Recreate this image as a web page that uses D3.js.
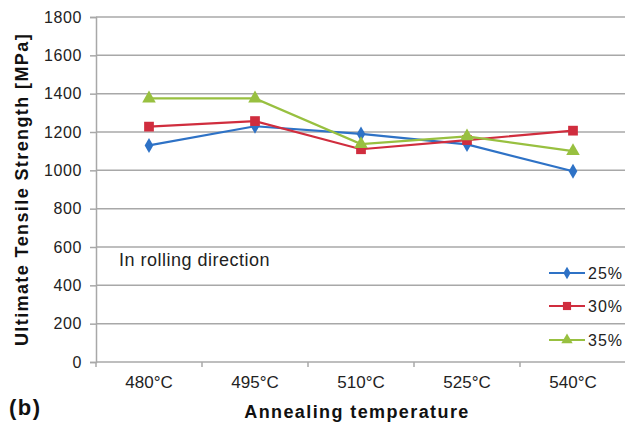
<!DOCTYPE html>
<html>
<head>
<meta charset="utf-8">
<script src="https://cdn.jsdelivr.net/npm/d3@7"></script>
<style>
body { margin: 0; background: #fff; }
svg { font-family: Arial, "Liberation Sans", sans-serif; }
</style>
</head>
<body>
<script>
// values
var temps = ["480°C", "495°C", "510°C", "525°C", "540°C"]
var s25 = [1130, 1230, 1190, 1135, 995]
var s30 = [1228, 1257, 1110, 1158, 1207]
var s35 = [1375, 1375, 1137, 1177, 1100]
var seriesNames = ["25%", "30%", "35%"]
var yTicks = [0, 200, 400, 600, 800, 1000, 1200, 1400, 1600, 1800]

var colors = ["#2e72c6", "#d02d3e", "#98c040"]
var shapes = [d3.symbolDiamond, d3.symbolSquare, d3.symbolTriangle]
var sizes = [65, 95, 80]

var W = 625, H = 424
var m = {left: 96, top: 17, right: -1, bottom: 62}

var svg = d3.select("body").append("svg")
    .attr("width", W).attr("height", H)

var x = d3.scaleBand().domain(temps).range([m.left, W - m.right])
var y = d3.scaleLinear().domain([0, 1800]).range([H - m.bottom, m.top])

// grid
svg.append("g").selectAll("line")
    .data(yTicks)
    .enter().append("line")
    .attr("x1", m.left).attr("x2", W - m.right)
    .attr("y1", function (d) { return y(d) })
    .attr("y2", function (d) { return y(d) })
    .attr("stroke", "#a8a8a8").attr("stroke-width", 1.5)

// y axis
var yAxis = svg.append("g")
    .attr("transform", "translate(" + m.left + ",0)")
    .call(d3.axisLeft(y).tickValues(yTicks).tickFormat(d3.format("d")).tickSize(6).tickPadding(8))
yAxis.select(".domain").attr("stroke", "#a8a8a8").attr("stroke-width", 1.5)
yAxis.selectAll(".tick line").attr("stroke", "#a8a8a8").attr("stroke-width", 1.5)
yAxis.selectAll("text").attr("font-size", 16).attr("letter-spacing", 0.6).attr("fill", "#222")

// x axis
var xAxis = svg.append("g")
    .attr("transform", "translate(0," + y(0) + ")")
    .call(d3.axisBottom(x).tickSize(0).tickPadding(14))
xAxis.select(".domain").remove()
xAxis.selectAll("text").attr("font-size", 17).attr("fill", "#222")
svg.append("g").selectAll("line")
    .data(temps.concat(["end"]))
    .enter().append("line")
    .attr("x1", function (d, i) { return m.left + i * x.step() })
    .attr("x2", function (d, i) { return m.left + i * x.step() })
    .attr("y1", y(0)).attr("y2", y(0) + 5)
    .attr("stroke", "#a8a8a8").attr("stroke-width", 1.5)

// series
var allSeries = [s25, s30, s35]
var line = d3.line()
    .x(function (d, i) { return x(temps[i]) + x.bandwidth() / 2 })
    .y(function (d) { return y(d) })

allSeries.forEach(function (vals, k) {
    svg.append("path")
        .datum(vals)
        .attr("d", line)
        .attr("fill", "none")
        .attr("stroke", colors[k])
        .attr("stroke-width", 2.2)
    svg.append("g").selectAll("path")
        .data(vals)
        .enter().append("path")
        .attr("d", d3.symbol().type(shapes[k]).size(sizes[k]))
        .attr("transform", function (d, i) {
            return "translate(" + (x(temps[i]) + x.bandwidth() / 2) + "," + y(d) + ")"
        })
        .attr("fill", colors[k])
})

// legend
var legY = [273, 306, 340]
seriesNames.forEach(function (name, k) {
    var g = svg.append("g").attr("transform", "translate(549," + legY[k] + ")")
    g.append("line").attr("x1", 0).attr("x2", 36).attr("y1", 0).attr("y2", 0)
        .attr("stroke", colors[k]).attr("stroke-width", 2)
    g.append("path").attr("d", d3.symbol().type(shapes[k]).size(sizes[k] * 0.7))
        .attr("transform", "translate(18,0)").attr("fill", colors[k])
    g.append("text").attr("x", 39).attr("y", 6).attr("font-size", 16)
        .attr("letter-spacing", 1).attr("fill", "#222").text(name)
})

// annotation
svg.append("text").attr("x", 119).attr("y", 266)
    .attr("font-size", 18).attr("letter-spacing", 0.5).attr("fill", "#222").text("In rolling direction")

// axis titles
svg.append("text")
    .attr("transform", "translate(28," + (y(900)) + ") rotate(-90)")
    .attr("text-anchor", "middle").attr("font-size", 18).attr("font-weight", "bold")
    .attr("letter-spacing", 1.4).attr("fill", "#111").text("Ultimate Tensile Strength [MPa]")
svg.append("text").attr("x", 357).attr("y", 418)
    .attr("text-anchor", "middle").attr("font-size", 18).attr("font-weight", "bold")
    .attr("letter-spacing", 1.4).attr("fill", "#111").text("Annealing temperature")
svg.append("text").attr("x", 9).attr("y", 415)
    .attr("font-size", 22).attr("font-weight", "bold").attr("letter-spacing", 1.5)
    .attr("fill", "#111").text("(b)")
</script>
</body>
</html>
